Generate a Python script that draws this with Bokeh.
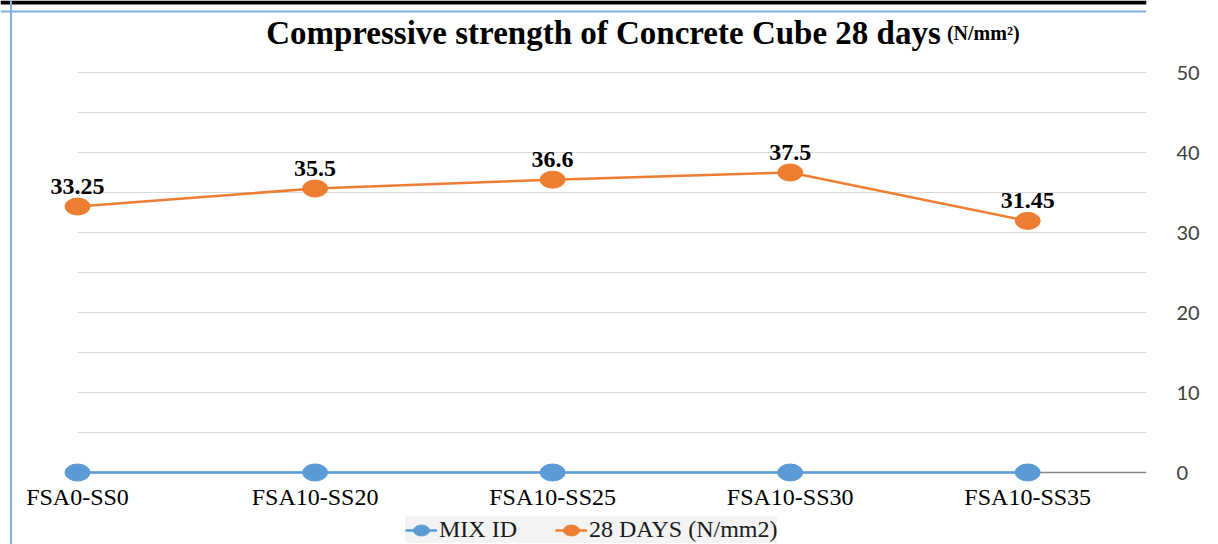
from bokeh.plotting import figure
from bokeh.models import ColumnDataSource, FixedTicker, Range1d, Legend, LegendItem, Label, Span
from bokeh.embed import file_html
from bokeh.resources import INLINE
from bokeh.core.properties import value

categories = ["FSA0-SS0", "FSA10-SS20", "FSA10-SS25", "FSA10-SS30", "FSA10-SS35"]
mix_id = [0, 0, 0, 0, 0]
days28 = [33.25, 35.5, 36.6, 37.5, 31.45]
days28_labels = ["33.25", "35.5", "36.6", "37.5", "31.45"]
y_ticks = [0, 10, 20, 30, 40, 50]
y_minor = [5, 15, 25, 35, 45]

BLUE = "#5B9BD5"
ORANGE = "#ED7D31"
SERIF = "Liberation Serif"

xs = list(range(len(categories)))
PPU = 237.5
X0, X1 = -77 / PPU, 4.5
Y0, Y1 = -9, 59

p = figure(width=1218, height=544, output_backend="svg", toolbar_location=None,
           x_range=Range1d(X0, X1), y_range=Range1d(Y0, Y1),
           y_axis_location="right", min_border_left=0, min_border_top=0,
           min_border_right=72, min_border_bottom=0, outline_line_color=None)

p.xgrid.visible = False
p.ygrid.visible = False
p.xaxis.visible = False

# gridlines (from x of first category to right edge of plot)
grid_y = sorted(y_ticks[1:] + y_minor)
p.segment(x0=[xs[0]] * len(grid_y), x1=[X1] * len(grid_y), y0=grid_y, y1=grid_y,
          line_color="#d9d9d9", line_width=1)
p.segment(x0=[xs[0]], x1=[X1], y0=[0], y1=[0], line_color="#868686", line_width=1.5)

# category labels along the horizontal axis
src_cat = ColumnDataSource(dict(x=xs, y=[0] * len(xs), t=categories))
p.text("x", "y", text="t", source=src_cat, y_offset=11, text_align="center",
       text_baseline="top", text_font=value(SERIF), text_font_size="24px",
       text_color="#000000")

# series
src_mix = ColumnDataSource(dict(x=xs, y=mix_id))
src_28 = ColumnDataSource(dict(x=xs, y=days28, t=days28_labels))

l1 = p.line("x", "y", source=src_mix, line_color=BLUE, line_width=2.5)
e1 = p.ellipse("x", "y", width=25, height=17, width_units="screen", height_units="screen",
               source=src_mix, fill_color=BLUE, line_color=BLUE)
l2 = p.line("x", "y", source=src_28, line_color=ORANGE, line_width=2.5)
e2 = p.ellipse("x", "y", width=25, height=17, width_units="screen", height_units="screen",
               source=src_28, fill_color=ORANGE, line_color=ORANGE)

p.text("x", "y", text="t", source=src_28, y_offset=-13, text_align="center",
       text_baseline="bottom", text_font=value(SERIF), text_font_style="bold",
       text_font_size="24px", text_color="#000000")

# title
p.add_layout(Label(x=3.634, y=55, text="Compressive strength of Concrete Cube 28 days",
                   text_align="right", text_baseline="middle", text_font=SERIF,
                   text_font_style="bold", text_font_size="33px", text_color="#000000"))
p.add_layout(Label(x=3.66, y=55, text="(N/mm²)", text_align="left", text_baseline="middle",
                   text_font=SERIF, text_font_style="bold", text_font_size="20px",
                   text_color="#000000"))

# value axis
p.yaxis.ticker = FixedTicker(ticks=y_ticks)
p.yaxis.axis_line_color = None
p.yaxis.major_tick_line_color = None
p.yaxis.minor_tick_line_color = None
p.yaxis.major_label_standoff = 24
p.yaxis.major_label_text_font = "Lato"
p.yaxis.major_label_text_font_size = "20px"
p.yaxis.major_label_text_color = "#404040"

# document decorations (top rule and chart border)
p.add_layout(Span(location=Y1 - 2 / 8, dimension="width", line_color="#000000", line_width=4))
p.add_layout(Span(location=X0 + 10.5 / PPU, dimension="height", line_color="#7fb0e0", line_width=2))
p.add_layout(Span(location=Y1 - 11 / 8, dimension="width", line_color="#7fb0e0", line_width=2))

legend = Legend(items=[LegendItem(label="MIX ID", renderers=[l1, e1]),
                       LegendItem(label="28 DAYS (N/mm2)", renderers=[l2, e2])],
                orientation="horizontal", location=(405, 1),
                label_text_font=SERIF, label_text_font_size="24px",
                label_text_color="#1a1a1a",
                background_fill_color="#f2f2f2", border_line_color=None,
                glyph_width=32, glyph_height=20, spacing=38, padding=6, margin=0,
                label_standoff=2)
p.add_layout(legend)

open("out.html", "w").write(file_html(p, INLINE))
